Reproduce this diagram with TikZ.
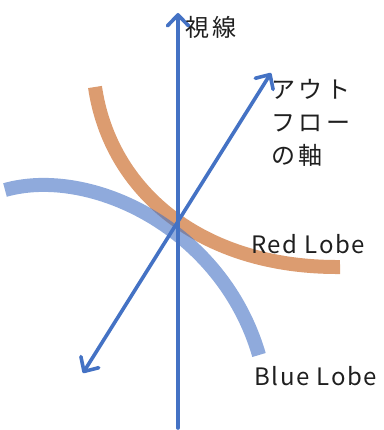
\documentclass[tikz,border=0pt]{standalone}
\usepackage{fontspec}
\setmainfont{Noto Sans CJK JP}
\newfontfamily\jpfont{Noto Sans CJK JP}[LetterSpace=15]
\newfontfamily\enfont{Noto Sans CJK JP}[LetterSpace=7]
\usetikzlibrary{arrows.meta}
\definecolor{axisblue}{RGB}{68,114,196}
\definecolor{lobered}{RGB}{197,90,17}
\definecolor{lobeblue}{RGB}{68,114,196}
\tikzset{
  axisline/.style={axisblue, line width=3.6pt, line cap=round},
  barb/.tip={Straight Barb[length=11pt,width=21pt,round]},
  lobe/.style={line width=14pt, opacity=0.6},
  lbl/.style={inner sep=0pt, anchor=west, text=black!88},
  jplbl/.style={lbl, font=\jpfont\fontsize{24}{33}\selectfont},
  enlbl/.style={lbl, font=\enfont\fontsize{24}{33}\selectfont},
}
\begin{document}
\begin{tikzpicture}[x=1pt,y=-1pt]
\useasboundingbox (0,0) rectangle (383,430);
% lobes
\draw[lobe, lobered] (95,87) .. controls (110,190) and (200,268) .. (340,267);
\draw[lobe, lobeblue] (5,190) .. controls (90,166) and (222,228) .. (259,355);
% axes
\coordinate (vb) at (178,428);
\coordinate (vt) at (178,13);
\coordinate (dl) at (83,373);
\coordinate (dr) at (271,73);
\draw[axisline, -barb] (vb) -- (vt);
\draw[axisline, barb-barb] (dl) -- (dr);
% labels
\node[jplbl] (sisen) at (185,27) {視線};
\node[jplbl, align=left, anchor=north west] (outflow) at (271,79) {アウト\\フロー\\の軸};
\node[enlbl] (red) at (251,244) {Red Lobe};
\node[enlbl] (blue) at (254,376) {Blue Lobe};
\end{tikzpicture}
\end{document}
